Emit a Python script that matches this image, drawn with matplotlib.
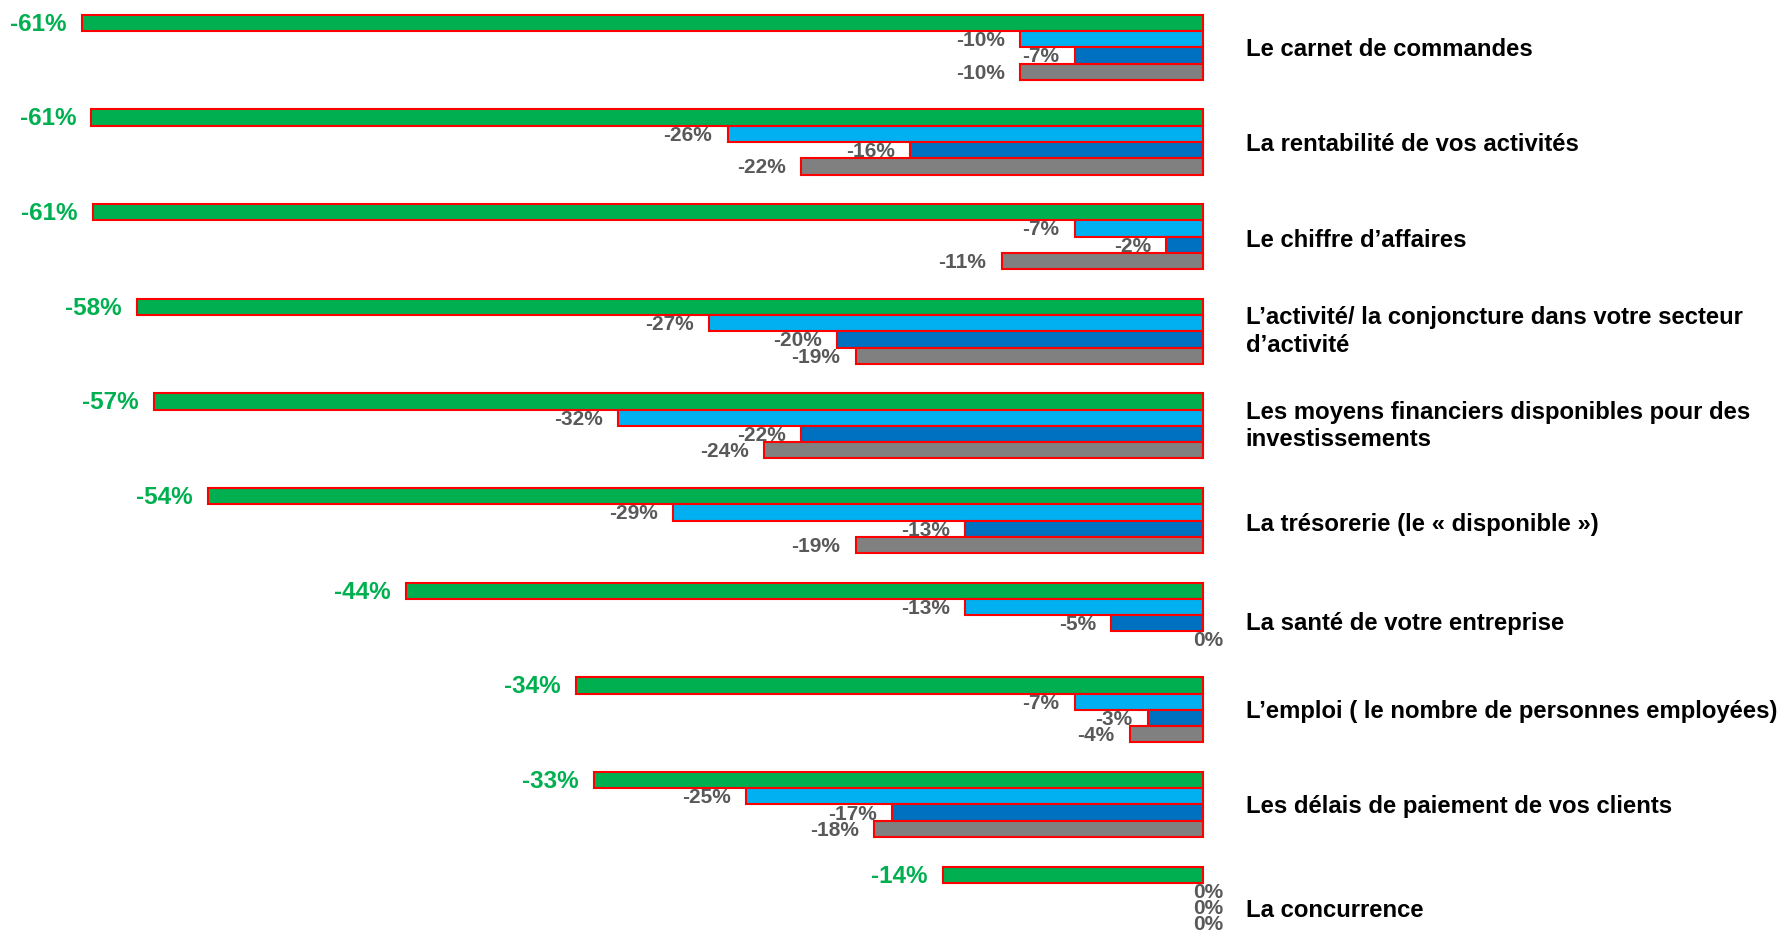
import matplotlib
matplotlib.use("Agg")
import matplotlib.pyplot as plt
from matplotlib import font_manager

categories = [
    "Le carnet de commandes",
    "La rentabilité de vos activités",
    "Le chiffre d\u2019affaires",
    "L\u2019activité/ la conjoncture dans votre secteur\nd\u2019activité",
    "Les moyens financiers disponibles pour des\ninvestissements",
    "La trésorerie (le « disponible »)",
    "La santé de votre entreprise",
    "L\u2019emploi ( le nombre de personnes employées)",
    "Les délais de paiement de vos clients",
    "La concurrence",
]
green = [-61.3, -60.8, -60.7, -58.3, -57.4, -54.4, -43.6, -34.3, -33.3, -14.2]
light_blue = [-10, -26, -7, -27, -32, -29, -13, -7, -25, 0]
dark_blue = [-7, -16, -2, -20, -22, -13, -5, -3, -17, 0]
gray = [-10, -22, -11, -19, -24, -19, 0, -4, -18, 0]

series = [green, light_blue, dark_blue, gray]
colors = ["#00B050", "#00B0F0", "#0070C0", "#808080"]
label_colors = ["#00B050", "#595959", "#595959", "#595959"]
label_sizes = [17.5, 15, 15, 15]

# small vertical tweaks of the category labels (layout only)
label_dy = [0.02, 0.03, 0.04, 0.0, 0.0, 0.04, 0.09, 0.02, 0.02, 0.12]

avail = {f.name for f in font_manager.fontManager.ttflist}
vfam = ["Liberation Sans Narrow", "Liberation Sans"] if "Liberation Sans Narrow" in avail else ["Liberation Sans"]

fig = plt.figure(figsize=(17.86, 9.33), dpi=100)
ax = fig.add_axes([0, 0, 1, 1])
ax.set_xlim(-65.8, 31.9)
ax.set_ylim(9.358, -0.5)
ax.axis("off")

h = 0.172
offsets = [-1.5, -0.5, 0.5, 1.5]
ys = list(range(len(categories)))
for s, vals in enumerate(series):
    pos = [y + offsets[s] * h for y in ys]
    edges = ["#FF0000" if v != 0 else "none" for v in vals]
    ax.barh(pos, vals, height=h, color=colors[s], edgecolor=edges, linewidth=1.5)
    for p, v in zip(pos, vals):
        txt = f"{round(v):d}%"
        if round(v) == 0:
            ax.annotate(txt, (0, p), xytext=(4, -1), textcoords="offset points",
                        ha="center", va="center", fontsize=label_sizes[s],
                        fontweight="bold", color=label_colors[s], family=vfam)
        else:
            ax.annotate(txt, (v, p), xytext=(-11, -1), textcoords="offset points",
                        ha="right", va="center", fontsize=label_sizes[s],
                        fontweight="bold", color=label_colors[s], family=vfam)

for y, c, dy in zip(ys, categories, label_dy):
    ax.text(2.35, y + dy, c, ha="left", va="center", fontsize=17.2,
            fontweight="bold", color="black", family=["Liberation Sans"],
            linespacing=1.25)

fig.savefig("out.png", dpi=100)
